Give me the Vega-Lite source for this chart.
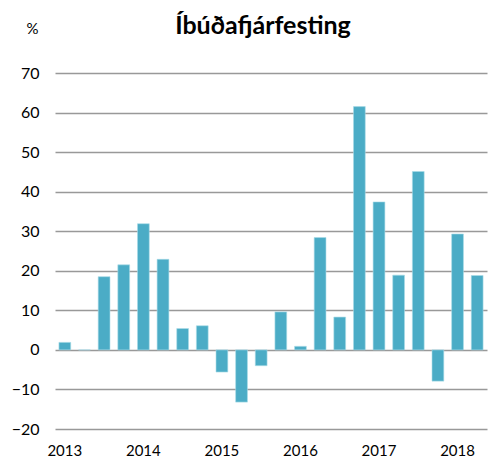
{
  "$schema": "https://vega.github.io/schema/vega-lite/v6.json",
  "autosize": "none",
  "width": 432,
  "height": 356,
  "padding": {"left": 55, "top": 73, "right": 3, "bottom": 33},
  "background": "white",
  "title": {
    "text": "Íbúðafjárfesting",
    "font": "Lato",
    "fontSize": 25,
    "fontWeight": "bold",
    "color": "#000000",
    "anchor": "middle",
    "dx": -8,
    "offset": -18
  },
  "data": {
    "values": [
      {"q": "2013 Q1", "v": 1.9},
      {"q": "2013 Q2", "v": 0},
      {"q": "2013 Q3", "v": 18.5},
      {"q": "2013 Q4", "v": 21.5},
      {"q": "2014 Q1", "v": 31.9},
      {"q": "2014 Q2", "v": 22.9},
      {"q": "2014 Q3", "v": 5.4},
      {"q": "2014 Q4", "v": 6.1},
      {"q": "2015 Q1", "v": -5.6},
      {"q": "2015 Q2", "v": -13.2},
      {"q": "2015 Q3", "v": -4.0},
      {"q": "2015 Q4", "v": 9.6},
      {"q": "2016 Q1", "v": 0.9},
      {"q": "2016 Q2", "v": 28.4},
      {"q": "2016 Q3", "v": 8.3},
      {"q": "2016 Q4", "v": 61.5},
      {"q": "2017 Q1", "v": 37.4},
      {"q": "2017 Q2", "v": 18.9},
      {"q": "2017 Q3", "v": 45.1},
      {"q": "2017 Q4", "v": -7.9},
      {"q": "2018 Q1", "v": 29.3},
      {"q": "2018 Q2", "v": 18.8}
    ]
  },
  "mark": {"type": "bar", "color": "#4BACC6", "stroke": "#a9dbe8", "strokeWidth": 0.6},
  "encoding": {
    "x": {
      "field": "q",
      "type": "ordinal",
      "sort": null,
      "scale": {"paddingInner": 0.4, "paddingOuter": 0.2},
      "axis": {
        "title": null,
        "labelAngle": 0,
        "domain": false,
        "ticks": false,
        "labelExpr": "slice(datum.value,5)=='Q1' ? slice(datum.value,0,4) : ''",
        "labelFont": "Lato",
        "labelFontSize": 15,
        "labelColor": "#000000",
        "labelPadding": 14
      }
    },
    "y": {
      "field": "v",
      "type": "quantitative",
      "scale": {"domain": [-20, 70], "nice": false},
      "axis": {
        "values": [-20, -10, 0, 10, 20, 30, 40, 50, 60, 70],
        "title": "%",
        "titleAngle": 0,
        "titleFont": "Lato",
        "titleFontSize": 15,
        "titleFontWeight": "normal",
        "titleColor": "#000000",
        "titleX": -23,
        "titleY": -37,
        "titleAlign": "center",
        "titleBaseline": "bottom",
        "domain": false,
        "ticks": false,
        "grid": true,
        "gridColor": "#999999",
        "gridWidth": 1.6,
        "labelFont": "Lato",
        "labelFontSize": 16,
        "labelColor": "#000000",
        "labelPadding": 16
      }
    }
  },
  "config": {"view": {"stroke": null}}
}
